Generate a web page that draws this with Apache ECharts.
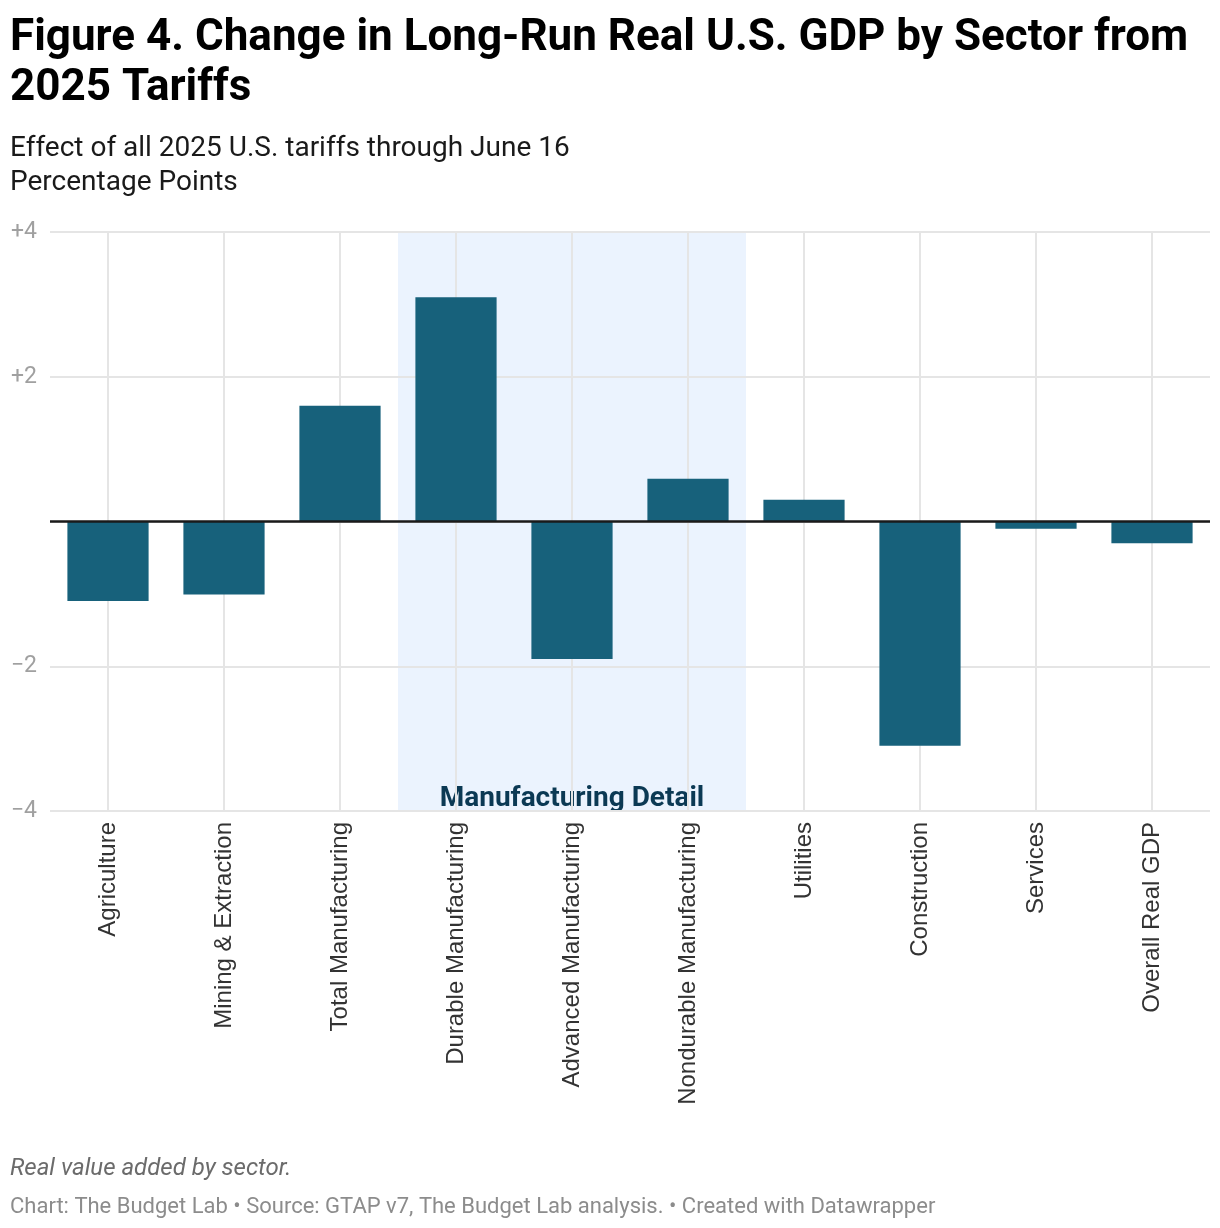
<!DOCTYPE html>
<html>
<head>
<meta charset="utf-8">
<script src="https://cdn.jsdelivr.net/npm/echarts@6/dist/echarts.min.js"></script>
<style>
html,body{margin:0;padding:0;background:#fff;}
#c{width:1220px;height:1228px;}
</style>
</head>
<body>
<div id="c"></div>
<script>
const categories = ['Agriculture','Mining & Extraction','Total Manufacturing','Durable Manufacturing','Advanced Manufacturing','Nondurable Manufacturing','Utilities','Construction','Services','Overall Real GDP'];
const values = [-1.10, -1.01, 1.60, 3.10, -1.90, 0.59, 0.30, -3.10, -0.10, -0.30];
const yTicks = [-4, -2, 0, 2, 4];
const shadeStart = 'Durable Manufacturing';
const shadeEnd = 'Nondurable Manufacturing';
const shadeLabel = 'Manufacturing Detail';

const FONT = 'Roboto';
const chart = echarts.init(document.getElementById('c'), null, {renderer:'canvas'});
const yMin = yTicks[0], yMax = yTicks[yTicks.length-1];

chart.setOption({
  backgroundColor:'#fff',
  animation:false,
  textStyle:{fontFamily:FONT},
  title:[
    {text:'Figure 4. Change in Long-Run Real U.S. GDP by Sector from\n2025 Tariffs', left:10, top:14, padding:0,
     textStyle:{fontFamily:FONT, fontWeight:'bold', fontSize:44, lineHeight:50, color:'#000'}},
    {text:'Effect of all 2025 U.S. tariffs through June 16\nPercentage Points', left:10, top:132, padding:0,
     textStyle:{fontFamily:FONT, fontWeight:'normal', fontSize:28, lineHeight:34, color:'#1a1a1a'}},
    {text:'Real value added by sector.', left:10, top:1156, padding:0,
     textStyle:{fontFamily:FONT, fontStyle:'italic', fontWeight:'normal', fontSize:24, lineHeight:26, color:'#6b6b6b'}},
    {text:'Chart: The Budget Lab • Source: GTAP v7, The Budget Lab analysis. • Created with Datawrapper', left:10, top:1195, padding:0,
     textStyle:{fontFamily:FONT, fontWeight:'normal', fontSize:22, lineHeight:24, color:'#8c8c8c'}}
  ],
  grid:{left:50, right:10, top:232, bottom:417, containLabel:false},
  xAxis:{
    type:'category', data:categories,
    axisLine:{show:false}, axisTick:{show:false},
    axisLabel:{rotate:90, fontSize:24, color:'#333', fontFamily:'Liberation Sans', margin:11},
    splitLine:{show:true, alignWithLabel:true, lineStyle:{color:'#e5e5e5', width:2}}
  },
  yAxis:{
    type:'value', min:yMin, max:yMax, interval:2,
    axisLine:{show:false}, axisTick:{show:false},
    axisLabel:{fontSize:23, color:'#a0a0a0', fontFamily:FONT, margin:13,
      formatter:v=> v>0 ? '+'+v : (v<0 ? '\u2212'+Math.abs(v) : '')},
    splitLine:{show:true, lineStyle:{color:'#e5e5e5', width:2}}
  },
  series:[
    {
      type:'custom', z:-1, silent:true,
      data:[[categories.indexOf(shadeStart), categories.indexOf(shadeEnd)]],
      encode:{x:0},
      renderItem:(params, api)=>{
        const s = api.value(0), e = api.value(1);
        const band = api.size([1,0])[0];
        const p0 = api.coord([s, yMax]);
        const p1 = api.coord([e, yMin]);
        const x0 = p0[0]-band/2, x1 = p1[0]+band/2;
        return {type:'group', children:[
          {type:'rect', shape:{x:x0, y:p0[1], width:x1-x0, height:p1[1]-p0[1]}, style:{fill:'#ebf3fe'}},
          {type:'text', style:{text:shadeLabel, x:(x0+x1)/2, y:p1[1]-12, textAlign:'center', textVerticalAlign:'middle',
            fill:'#0b3954', font:'bold 28px Roboto'}}
        ]};
      }
    },
    {
      type:'bar', data:values, barCategoryGap:'30%',
      itemStyle:{color:'#17617b'},
      markLine:{silent:true, symbol:'none', label:{show:false},
        lineStyle:{color:'#1a1a1a', width:2.5, type:'solid'},
        data:[{yAxis:0}]}
    }
  ]
});
</script>
</body>
</html>
